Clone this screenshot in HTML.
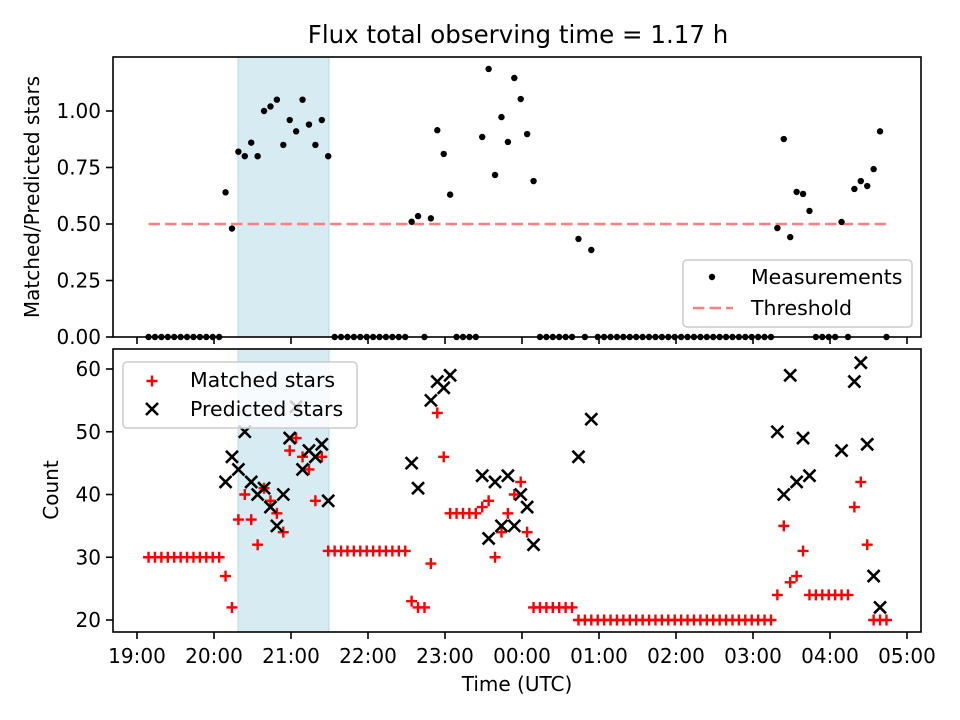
<!DOCTYPE html>
<html><head><meta charset="utf-8"><style>
html,body{margin:0;padding:0;background:#fff;}
svg{display:block;font-family:"DejaVu Sans","Liberation Sans",sans-serif;}
</style></head><body>
<svg id="chart" width="960" height="720" viewBox="0 0 960 720"></svg>
<script>
// time slots: minutes since 19:00 UTC
const times = [9,14,19,24,29,34,39,44,49,54,59,64,69,74,79,84,89,94,99,104,109,114,119,124,129,134,139,144,149,154,159,164,169,174,179,184,189,194,199,204,209,214,219,224,229,234,239,244,249,254,259,264,269,274,279,284,289,294,299,304,309,314,319,324,329,334,339,344,349,354,359,364,369,374,379,384,389,394,399,404,409,414,419,424,429,434,439,444,449,454,459,464,469,474,479,484,489,494,499,504,509,514,519,524,529,534,539,544,549,554,559,564,569,574,579,584];
const ratio = [0,0,0,0,0,0,0,0,0,0,0,0,
 .64,.48,.82,.80,.86,.80,1.00,1.02,1.05,.85,.96,.91,1.05,.94,.85,.96,.80,
 0,0,0,0,0,0,0,0,0,0,0,0,
 .51,.535,0,.525,.915,.81,.63,0,0,0,0,.885,1.186,.717,.973,.863,1.146,1.053,.898,.69,
 0,0,0,0,0,0,.434,0,.385,
 0,0,0,0,0,0,0,0,0,0,0,0,0,0,0,0,0,0,0,0,0,0,0,0,0,0,0,0,
 .482,.876,.442,.642,.633,.558,0,0,0,0,.509,0,.655,.69,.668,.743,.91,0];
const matched = [30,30,30,30,30,30,30,30,30,30,30,30,
 27,22,36,40,36,32,41,39,37,34,47,49,46,44,39,46,31,
 31,31,31,31,31,31,31,31,31,31,31,31,
 23,22,22,29,53,46,37,37,37,37,37,38,39,30,34,37,40,42,34,22,
 22,22,22,22,22,22,20,20,20,
 20,20,20,20,20,20,20,20,20,20,20,20,20,20,20,20,20,20,20,20,20,20,20,20,20,20,20,20,
 24,35,26,27,31,24,24,24,24,24,24,24,38,42,32,20,20,20];
const predicted = [null,null,null,null,null,null,null,null,null,null,null,null,
 42,46,44,50,42,40,41,38,35,40,49,54,44,47,46,48,39,
 null,null,null,null,null,null,null,null,null,null,null,null,
 45,41,null,55,58,57,59,null,null,null,null,43,33,42,35,43,35,40,38,32,
 null,null,null,null,null,null,46,null,52,
 null,null,null,null,null,null,null,null,null,null,null,null,null,null,null,null,null,null,null,null,null,null,null,null,null,null,null,null,
 50,40,59,42,49,43,null,null,null,null,47,null,58,61,48,27,22,null];
const threshold = 0.5;
const xTickLabels = ["19:00","20:00","21:00","22:00","23:00","00:00","01:00","02:00","03:00","04:00","05:00"];
const xTickMinutes = [0,60,120,180,240,300,360,420,480,540,600];
const ratioTicks = [0,0.25,0.5,0.75,1.0];
const ratioTickLabels = ["0.00","0.25","0.50","0.75","1.00"];
const countTicks = [20,30,40,50,60];
const spanStart = 78.7, spanEnd = 149.6;

const NS="http://www.w3.org/2000/svg";
const svg=document.getElementById('chart');
function mk(tag,attrs,parent){const e=document.createElementNS(NS,tag);for(const k in attrs)e.setAttribute(k,attrs[k]);(parent||svg).appendChild(e);return e;}
const L=113,R=921,T1=57,B1=337,T2=349,B2=632;
const xS=m=>137+m*77/60;
const yTop=v=>337-226*v;
const yBot=c=>620-(c-20)*6.275;

// title
let t=mk('text',{x:518,y:43,'text-anchor':'middle','font-size':24.5});t.textContent="Flux total observing time = 1.17 h";


// shaded spans
[[T1,B1],[T2,B2]].forEach(([a,b],i)=>{
  const r=mk('rect',{x:xS(spanStart),y:a,width:xS(spanEnd)-xS(spanStart),height:b-a,fill:'#d6ebf2',stroke:'#b5dbe6','stroke-width':1});
  
  
});

// threshold line
let th=mk('line',{x1:xS(times[0]),x2:xS(times[times.length-1]),y1:yTop(threshold),y2:yTop(threshold),stroke:'#ff7f7f','stroke-width':2.5,'stroke-dasharray':'11.5,5'});


// measurements
const gM=mk('g',{});

times.forEach((m,i)=>{const c=mk('circle',{cx:xS(m),cy:yTop(ratio[i]),r:3.2,fill:'#000'},gM);
});

// matched
const gP=mk('g',{});

times.forEach((m,i)=>{const x=xS(m),y=yBot(matched[i]);
const p=mk('path',{d:`M${x-5.5},${y}H${x+5.5}M${x},${y-5.5}V${y+5.5}`,stroke:'#f00','stroke-width':2.4,fill:'none'},gP);
});

// predicted
const gX=mk('g',{});

times.forEach((m,i)=>{if(predicted[i]==null)return;const x=xS(m),y=yBot(predicted[i]),d=6;
const p=mk('path',{d:`M${x-d},${y-d}L${x+d},${y+d}M${x-d},${y+d}L${x+d},${y-d}`,stroke:'#000','stroke-width':2.6,fill:'none'},gX);
});

// axes frames
[[T1,B1,'top-axes-frame'],[T2,B2,'bottom-axes-frame']].forEach(([a,b,n])=>{
  const r=mk('rect',{x:L,y:a,width:R-L,height:b-a,fill:'none',stroke:'#000','stroke-width':1.6});
  
});
// x ticks
xTickMinutes.forEach((m,i)=>{const x=xS(m);
  mk('line',{x1:x,x2:x,y1:B1,y2:B1+7,stroke:'#000','stroke-width':1.6});
  mk('line',{x1:x,x2:x,y1:B2,y2:B2+7,stroke:'#000','stroke-width':1.6});
  const tx=mk('text',{x:x,y:663,'text-anchor':'middle','font-size':20});tx.textContent=xTickLabels[i];
  
});
ratioTicks.forEach((v,i)=>{const y=yTop(v);
  mk('line',{x1:L-7,x2:L,y1:y,y2:y,stroke:'#000','stroke-width':1.6});
  const tx=mk('text',{x:L-12,y:y+7,'text-anchor':'end','font-size':20});tx.textContent=ratioTickLabels[i];
  
});
countTicks.forEach(v=>{const y=yBot(v);
  mk('line',{x1:L-7,x2:L,y1:y,y2:y,stroke:'#000','stroke-width':1.6});
  const tx=mk('text',{x:L-12,y:y+7,'text-anchor':'end','font-size':20});tx.textContent=String(v);
  
});
// axis titles
let a1=mk('text',{x:0,y:0,'text-anchor':'middle','font-size':20,transform:'translate(39,197) rotate(-90)'});a1.textContent="Matched/Predicted stars";

let a2=mk('text',{x:0,y:0,'text-anchor':'middle','font-size':20,transform:'translate(58,490) rotate(-90)'});a2.textContent="Count";

let a3=mk('text',{x:517,y:691,'text-anchor':'middle','font-size':20});a3.textContent="Time (UTC)";


// top legend
const lg1=mk('g',{});
mk('rect',{x:683,y:260,width:229,height:67,rx:4,fill:'rgba(255,255,255,0.8)',stroke:'#ccc','stroke-width':1.5},lg1);
mk('circle',{cx:712,cy:277,r:3.2,fill:'#000'},lg1);
let l1=mk('text',{x:751,y:284,'font-size':20.5},lg1);l1.textContent="Measurements";

mk('line',{x1:693,x2:733,y1:308,y2:308,stroke:'#ff7f7f','stroke-width':2.5,'stroke-dasharray':'11.5,5'},lg1);
let l2=mk('text',{x:751,y:315,'font-size':20.5},lg1);l2.textContent="Threshold";


// bottom legend
const lg2=mk('g',{});
mk('rect',{x:123,y:362,width:234,height:66,rx:4,fill:'rgba(255,255,255,0.8)',stroke:'#ccc','stroke-width':1.5},lg2);
mk('path',{d:'M146.5,381H157.5M152,375.5V386.5',stroke:'#f00','stroke-width':2.4},lg2);
let l3=mk('text',{x:190,y:387,'font-size':20.5},lg2);l3.textContent="Matched stars";

mk('path',{d:'M146,403L158,415M146,415L158,403',stroke:'#000','stroke-width':2.6},lg2);
let l4=mk('text',{x:190,y:416,'font-size':20.5},lg2);l4.textContent="Predicted stars";

</script>
</body></html>
